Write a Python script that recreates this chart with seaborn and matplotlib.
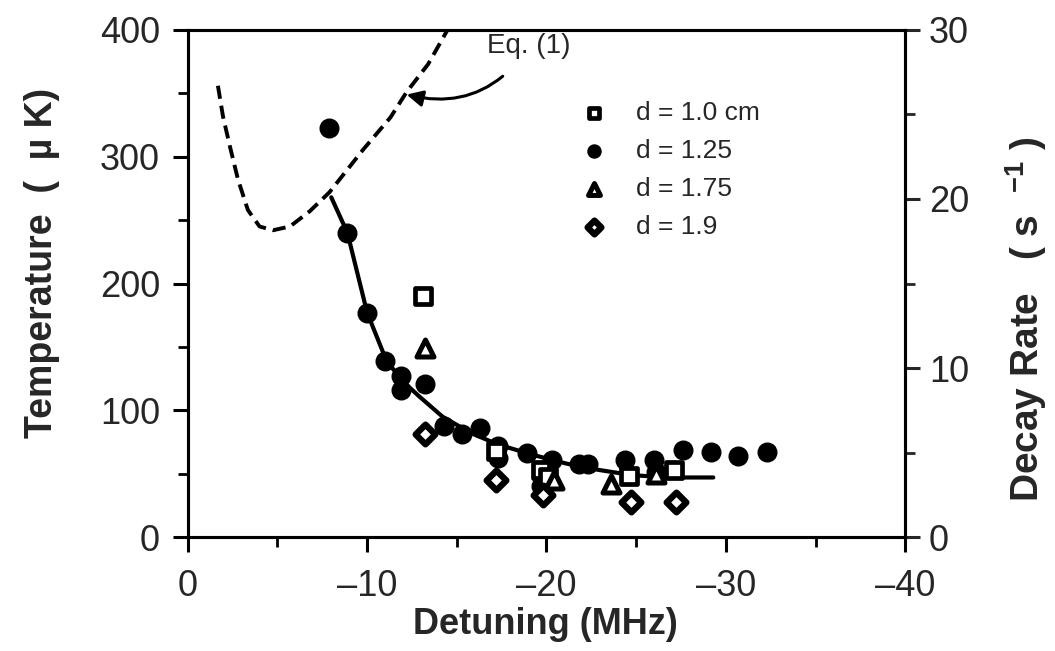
import matplotlib
matplotlib.use('Agg')
import matplotlib.pyplot as plt
import seaborn as sns

# detuning (MHz) and temperature (uK)
d100_x = [-13.1, -17.2, -19.7, -20.1, -24.6, -27.1]
d100_y = [190, 68, 53, 47, 48, 53]

d125_x = [-7.9, -8.9, -10.0, -11.0, -11.9, -11.9, -13.2, -14.3, -15.3, -16.3,
          -17.3, -17.3, -18.9, -19.7, -20.3, -21.8, -22.3, -24.4, -26.0, -26.1,
          -27.6, -29.2, -30.7, -32.3]
d125_y = [323, 240, 177, 139, 127, 116, 121, 88, 81, 86,
          72, 62, 66, 40, 61, 58, 58, 61, 61, 51,
          69, 67, 64, 67]

d175_x = [-13.2, -20.4, -23.6, -26.1]
d175_y = [149, 45, 42, 50]

d190_x = [-13.2, -17.2, -19.8, -24.7, -27.2]
d190_y = [81, 45, 33, 28, 28]

# solid fit through the data
fit_x = [-8.0, -8.9, -10.0, -11.05, -11.9, -12.9, -14.2, -15.8, -17.3, -19.2,
         -21.1, -22.9, -24.7, -26.6, -29.3]
fit_y = [268, 240, 177, 140, 124, 111, 95, 82, 73, 65,
         58, 53, 49, 47, 47]

# dashed Eq. (1) curve
eq_x = [-1.68, -1.96, -2.35, -2.8, -3.35, -4.0, -4.75, -5.7, -6.8, -7.9,
        -9.8, -11.3, -12.2, -13.4, -14.4, -14.6]
eq_y = [356, 332, 308, 282, 258, 245, 242, 245, 257, 272,
        306, 331, 351, 373, 398, 403]

x_ticks = [0, -10, -20, -30, -40]
x_labels = ['0', '\u201210', '\u201220', '\u201230', '\u201240']
t_ticks = [0, 100, 200, 300, 400]
r_ticks = [0, 10, 20, 30]

sns.set_theme(style="ticks")
plt.rcParams['font.family'] = ['Liberation Sans', 'DejaVu Sans']
plt.rcParams['mathtext.fontset'] = 'custom'
plt.rcParams['mathtext.bf'] = 'Liberation Sans:bold'
plt.rcParams['mathtext.rm'] = 'Liberation Sans'

fig = plt.figure(figsize=(10.55, 6.51), dpi=100)
ax = fig.add_axes([0.178, 0.175, 0.680, 0.779])

# curves
sns.lineplot(x=eq_x, y=eq_y, ax=ax, color='black', lw=2.8, sort=False,
             linestyle=(0, (3.4, 1.8)))
sns.lineplot(x=fit_x, y=fit_y, ax=ax, color='black', lw=3.0, sort=False)

# data points
sns.scatterplot(x=d100_x, y=d100_y, ax=ax, marker='s', s=120, facecolor='white',
                edgecolor='black', linewidth=3.4, label='d = 1.0 cm', zorder=5)
sns.scatterplot(x=d125_x, y=d125_y, ax=ax, marker='o', s=180, color='black',
                edgecolor='black', linewidth=1, label='d = 1.25', zorder=4)
sns.scatterplot(x=d175_x, y=d175_y, ax=ax, marker='^', s=150, facecolor='white',
                edgecolor='black', linewidth=3.6, label='d = 1.75', zorder=5)
sns.scatterplot(x=d190_x, y=d190_y, ax=ax, marker='D', s=100, facecolor='white',
                edgecolor='black', linewidth=4.6, label='d = 1.9', zorder=5)

ax.set_xlim(0, -40)
ax.set_ylim(0, 400)
ax.set_xticks(x_ticks)
ax.set_xticklabels(x_labels)
ax.set_xticks([-5, -15, -25, -35], minor=True)
ax.set_yticks(t_ticks)
ax.set_yticks([50, 150, 250, 350], minor=True)

for sp in ax.spines.values():
    sp.set_visible(True)
    sp.set_linewidth(2.2)
    sp.set_color('black')

ax.tick_params(axis='both', which='major', length=11, width=2.2, color='black',
               labelsize=26, direction='out')
ax.tick_params(axis='both', which='minor', length=7, width=2.0, color='black',
               direction='out')
ax.tick_params(axis='y', pad=9)
ax.tick_params(axis='x', pad=12)

ax.set_xlabel('Detuning (MHz)', fontsize=26, fontweight='bold')
ax.xaxis.set_label_coords(0.498, -0.138)
ax.set_ylabel('Temperature  (  \u00b5 K)', fontsize=27, fontweight='bold')
ax.yaxis.set_label_coords(-0.178, 0.54)

# right axis for decay rate
ax2 = ax.twinx()
ax2.set_ylim(0, 30)
ax2.set_yticks(r_ticks)
ax2.set_yticks([5, 15, 25], minor=True)
ax2.tick_params(axis='y', which='major', length=11, width=2.2, labelsize=26,
                direction='out', pad=6)
ax2.tick_params(axis='y', which='minor', length=7, width=2.0, direction='out')
for sp in ax2.spines.values():
    sp.set_linewidth(2.2)
    sp.set_color('black')
ax2.set_ylabel('Decay Rate   ( s  $^{\\mathbf{-1}}$ )', fontsize=28, fontweight='bold')
ax2.yaxis.set_label_coords(1.137, 0.43)
ax2.grid(False)
ax.grid(False)

# Eq. (1) annotation
ax.annotate('Eq. (1)', xy=(-12.2, 349), xytext=(-16.7, 387),
            fontsize=20, ha='left', va='center',
            arrowprops=dict(arrowstyle='-|>', color='black', lw=2.2,
                            mutation_scale=24,
                            connectionstyle='arc3,rad=-0.35',
                            shrinkA=14, shrinkB=0))

leg = ax.legend(loc='upper left', bbox_to_anchor=(0.529, 0.860), frameon=False,
                fontsize=19, labelspacing=0.53, handletextpad=0.6,
                markerscale=0.7, borderaxespad=0, borderpad=0)

fig.savefig('out.png', dpi=100)
